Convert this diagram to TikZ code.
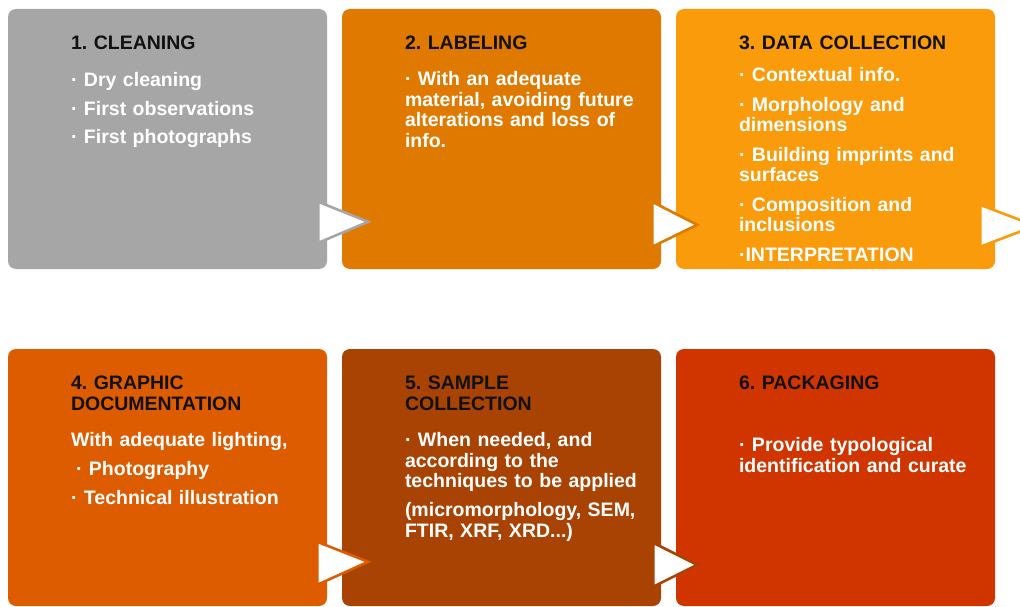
\documentclass[tikz,border=0pt]{standalone}
\usepackage{fontspec}
\setmainfont{Liberation Sans}
\usetikzlibrary{calc}
\definecolor{cone}{HTML}{A6A6A6}
\definecolor{ctwo}{HTML}{DF7900}
\definecolor{cthree}{HTML}{F99B0B}
\definecolor{cfour}{HTML}{DE5C00}
\definecolor{cfive}{HTML}{A84304}
\definecolor{csix}{HTML}{D03500}
\definecolor{titlecol}{HTML}{111111}
\frenchspacing
\begin{document}
\begin{tikzpicture}[x=1pt,y=-1pt,
  box/.style={draw=none,rounded corners=8pt,minimum width=319pt,minimum height=260pt,inner sep=0pt},
  ttl/.style={anchor=base west,inner sep=0pt,text width=300pt,align=left,font=\fontsize{19.5}{20.5}\selectfont\bfseries\frenchspacing,text=titlecol},
  bdy/.style={ttl,text=white},
  tri/.style={fill=white,line width=2.6pt,line join=miter}]
\clip (0,0) rectangle (1020,607);
\fill[white] (0,0) rectangle (1020,607);
% boxes
\node[box,fill=cone] (b1) at (167.5,139) {};
\node[box,fill=ctwo] (b2) at (501.5,139) {};
\node[box,fill=cthree] (b3) at (835.5,139) {};
\node[box,fill=cfour,minimum height=257pt] (b4) at (167.5,477.5) {};
\node[box,fill=cfive,minimum height=257pt] (b5) at (501.5,477.5) {};
\node[box,fill=csix,minimum height=257pt] (b6) at (835.5,477.5) {};
% triangles (connectors)
\draw[tri,draw=cone] ($(b1.north east)+(-9,193)$) -- ($(b1.north east)+(41,213)$) -- ($(b1.north east)+(-9,234)$) -- cycle;
\draw[tri,draw=ctwo] ($(b2.north east)+(-9,193)$) -- ($(b2.north east)+(36,216)$) -- ($(b2.north east)+(-9,238)$) -- cycle;
\draw[tri,draw=cthree] ($(b3.north east)+(-15,196)$) -- ($(b3.north east)+(40,217)$) -- ($(b3.north east)+(-15,238)$) -- cycle;
\draw[tri,draw=cfour] ($(b4.north east)+(-10,193)$) -- ($(b4.north east)+(41,213)$) -- ($(b4.north east)+(-10,236)$) -- cycle;
\draw[tri,draw=cfive] ($(b5.north east)+(-8,194)$) -- ($(b5.north east)+(36,216)$) -- ($(b5.north east)+(-8,238)$) -- cycle;
% titles
\node[ttl] (t1) at ($(b1.north west)+(63,41)$) {1. CLEANING};
\node[ttl] (t2) at ($(b2.north west)+(63,41)$) {2. LABELING};
\node[ttl] (t3) at ($(b3.north west)+(63,41)$) {3. DATA COLLECTION};
\node[ttl] (t4) at ($(b4.north west)+(63,41)$) {4. GRAPHIC\\DOCUMENTATION};
\node[ttl] (t5) at ($(b5.north west)+(63,41)$) {5. SAMPLE\\COLLECTION};
\node[ttl] (t6) at ($(b6.north west)+(63,41)$) {6. PACKAGING};
% bodies
\node[bdy] (d1) at ($(b1.north west)+(63,78)$) {· Dry cleaning\\[8pt]· First observations\\[8pt]· First photographs};
\node[bdy] (d2) at ($(b2.north west)+(63,77)$) {· With an adequate\\material, avoiding future\\alterations and loss of\\info.};
\node[bdy] (d3) at ($(b3.north west)+(63,73)$) {· Contextual info.\\[9pt]· Morphology and\\dimensions\\[9pt]· Building imprints and\\surfaces\\[9pt]· Composition and\\inclusions\\[9pt]·INTERPRETATION};
\node[bdy] (d4) at ($(b4.north west)+(63,98)$) {With adequate lighting,\\[8.5pt]\hspace*{5pt}· Photography\\[8.5pt]· Technical illustration};
\node[bdy] (d5) at ($(b5.north west)+(63,98)$) {· When needed, and\\according to the\\techniques to be applied\\[8.5pt](micromorphology, SEM,\\FTIR, XRF, XRD...)};
\node[bdy] (d6) at ($(b6.north west)+(63,103)$) {· Provide typological\\identification and curate};
\end{tikzpicture}
\end{document}
